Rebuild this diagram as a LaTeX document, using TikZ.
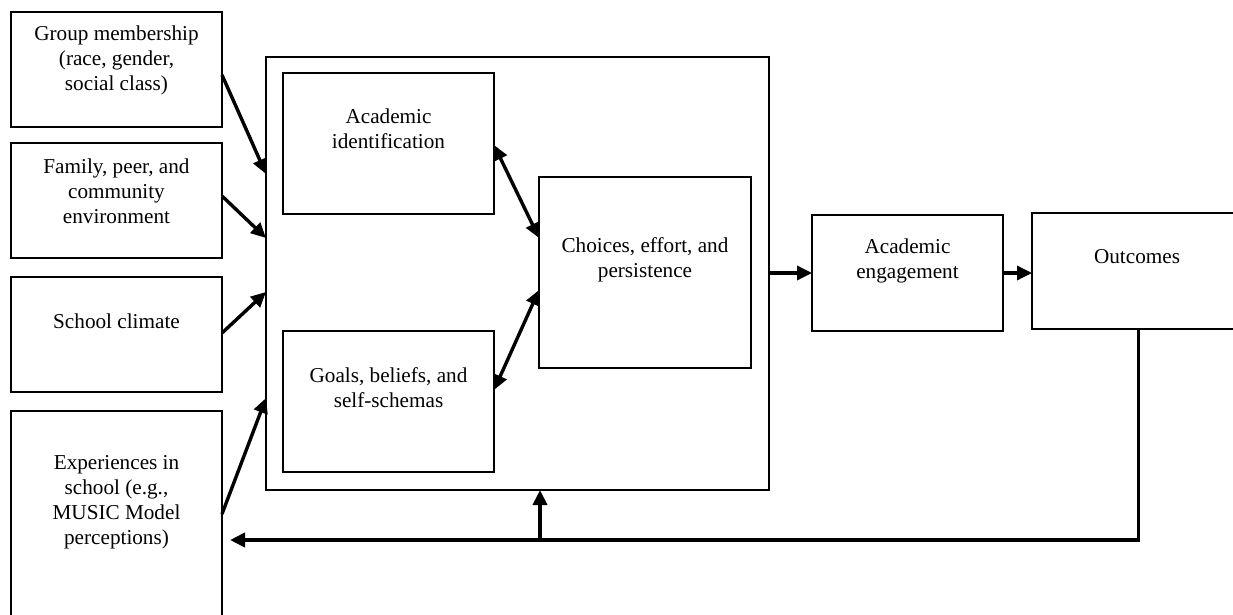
\documentclass[tikz,border=0pt]{standalone}
\usepackage{fontspec}
\setmainfont{Liberation Serif}
\usetikzlibrary{arrows.meta,calc}
\begin{document}
\begin{tikzpicture}[x=1pt,y=-1pt,
  box/.style={draw,line width=1.8pt,inner sep=0pt,outer sep=0pt},
  lbl/.style={anchor=north,align=center,inner sep=0pt,font=\fontsize{21.2}{25}\selectfont},
  tip/.style={-{Triangle[length=15pt,width=14pt]}},
  arr/.style={line width=3.4pt,tip},
  darr/.style={line width=3.4pt,{Triangle[length=15pt,width=14pt]}-{Triangle[length=15pt,width=14pt]}},
  fb/.style={line width=3.8pt}]
\useasboundingbox (0,0) rectangle (1233,615);
\clip (0,0) rectangle (1233,615);
% left boxes
\node[box,minimum width=211pt,minimum height=115pt] (gm) at (116.5,69.5) {};
\node[box,minimum width=211pt,minimum height=115pt] (fam) at (116.5,200.5) {};
\node[box,minimum width=211pt,minimum height=115pt] (sc) at (116.5,334.5) {};
\node[box,minimum width=211pt,minimum height=229pt] (exp) at (116.5,525.5) {};
% big box and inner boxes
\node[box,minimum width=503pt,minimum height=433pt] (big) at (517.5,273.5) {};
\node[box,minimum width=211pt,minimum height=141pt] (aid) at (388.5,143.5) {};
\node[box,minimum width=211pt,minimum height=141pt] (goals) at (388.5,401.5) {};
\node[box,minimum width=212pt,minimum height=191pt] (cho) at (645,272.5) {};
% right boxes
\node[box,minimum width=191pt,minimum height=116pt] (eng) at (907.5,273) {};
\node[box,minimum width=213pt,minimum height=116pt] (out) at (1138.5,271) {};
% labels
\node[lbl] (gmt) at ($(gm.north)+(0,13.3)$) {Group membership\\(race, gender,\\social class)};
\node[lbl] (famt) at ($(fam.north)+(0,15.3)$) {Family, peer, and\\community\\environment};
\node[lbl] (sct) at ($(sc.north)+(0,36.3)$) {School climate};
\node[lbl] (expt) at ($(exp.north)+(0,44.3)$) {Experiences in\\school (e.g.,\\MUSIC Model\\perceptions)};
\node[lbl] (aidt) at ($(aid.north)+(0,35.3)$) {Academic\\identification};
\node[lbl] (goalst) at ($(goals.north)+(0,36.3)$) {Goals, beliefs, and\\self-schemas};
\node[lbl] (chot) at ($(cho.north)+(0,60.3)$) {Choices, effort, and\\persistence};
\node[lbl] (engt) at ($(eng.north)+(0,23.3)$) {Academic\\engagement};
\node[lbl] (outt) at ($(out.north)+(-1.5,36.3)$) {Outcomes};
% arrows into big box
\draw[arr] ($(gm.east)+(0,5.5)$) -- ($(big.west)+(0,-99.5)$);
\draw[arr] ($(fam.east)+(0,-4.5)$) -- ($(big.west)+(0,-35.5)$);
\draw[arr] ($(sc.east)+(0,-1.5)$) -- ($(big.west)+(0,18.5)$);
\draw[arr] ($(exp.east)+(0,-11.5)$) -- ($(big.west)+(0,124.5)$);
% double arrows
\draw[darr] ($(aid.east)+(0,1.5)$) -- ($(cho.west)+(0,-34.5)$);
\draw[darr] ($(goals.east)+(0,-11.5)$) -- ($(cho.west)+(0,17.5)$);
% to engagement and outcomes
\draw[arr] (big.east |- eng.west) -- (eng.west);
\draw[arr] (eng.east) -- (eng.east -| out.west);
% feedback
\coordinate (fbl) at (230,540);
\coordinate (fbj) at (540,540);
\draw[fb,tip] (out.south) |- (fbl);
\draw[fb,tip] (fbj) -- (fbj |- big.south);
\end{tikzpicture}
\end{document}
